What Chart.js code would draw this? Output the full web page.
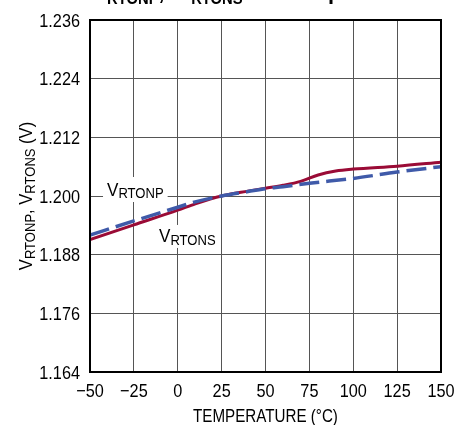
<!DOCTYPE html>
<html><head><meta charset="utf-8">
<script src="https://cdn.jsdelivr.net/npm/chart.js@4.4.0/dist/chart.umd.min.js"></script>
<style>html,body{margin:0;padding:0;background:#fff}#wrap{width:471px;height:425px}</style>
</head><body><div id="wrap"><canvas id="c" width="471" height="425"></canvas></div>
<script>
const tempsS = [-50, -25, 0, 10, 25, 40, 50, 60, 70, 80, 90, 100, 125, 150];
const vRTONS = [1.1911, 1.1941, 1.1971, 1.1984, 1.2000, 1.2010, 1.2016, 1.2022, 1.2030, 1.2043, 1.2051, 1.2055, 1.2061, 1.2069];
const tempsP = [-50, -25, 0, 10, 25, 40, 50, 60, 75, 100, 125, 150];
const vRTONP = [1.1920, 1.1949, 1.1977, 1.1988, 1.2000, 1.2009, 1.2015, 1.2019, 1.2026, 1.2036, 1.2049, 1.2060];
const xTickValues = [-50, -25, 0, 25, 50, 75, 100, 125, 150];
const xTickLabels = ['\u221250', '\u221225', '0', '25', '50', '75', '100', '125', '150'];
const yTickValues = [1.164, 1.176, 1.188, 1.200, 1.212, 1.224, 1.236];
const yTickLabels = ['1.164', '1.176', '1.188', '1.200', '1.212', '1.224', '1.236'];

const FAM = "'Liberation Sans', Arial, Helvetica, sans-serif";

function fontStr(size, weight) { return (weight ? weight + ' ' : '') + size + 'px ' + FAM; }
function richWidth(ctx, parts, size, subSize, weight) {
  let w = 0;
  parts.forEach(p => { ctx.font = fontStr(p.sub ? subSize : size, weight); w += ctx.measureText(p.t).width; });
  return w;
}
// draws condensed rich text (main + subscript parts); align: 'left' | 'center'
function drawRich(ctx, parts, x, y, size, subSize, subDrop, sx, weight, align) {
  const w = richWidth(ctx, parts, size, subSize, weight);
  ctx.save();
  ctx.translate(x, y);
  ctx.scale(sx, 1);
  ctx.textAlign = 'left';
  ctx.textBaseline = 'alphabetic';
  let cx = align === 'center' ? -w / 2 : 0;
  parts.forEach(p => {
    ctx.font = fontStr(p.sub ? subSize : size, weight);
    ctx.fillText(p.t, cx, p.sub ? subDrop : 0);
    cx += ctx.measureText(p.t).width;
  });
  ctx.restore();
  return w * sx;
}
function drawCond(ctx, text, x, y, size, sx, align, baseline) {
  ctx.save();
  ctx.translate(x, y);
  ctx.scale(sx, 1);
  ctx.font = fontStr(size);
  ctx.textAlign = align;
  ctx.textBaseline = baseline;
  ctx.fillText(text, 0, 0);
  ctx.restore();
}

const textPlugin = {
  id: 'texts',
  afterDatasetsDraw(chart) {
    const ctx = chart.ctx, xs = chart.scales.x, ys = chart.scales.y, a = chart.chartArea;
    ctx.save();
    // frame
    ctx.strokeStyle = '#000';
    ctx.lineWidth = 2;
    ctx.strokeRect(a.left, a.top, a.right - a.left, a.bottom - a.top);
    ctx.fillStyle = '#000';
    // tick labels
    yTickValues.forEach((v, i) => {
      drawCond(ctx, yTickLabels[i], a.left - 10, ys.getPixelForValue(v) + 6.5, 18.5, 0.88, 'right', 'alphabetic');
    });
    xTickValues.forEach((v, i) => {
      drawCond(ctx, xTickLabels[i], xs.getPixelForValue(v), 397, 18.5, 0.88, 'center', 'alphabetic');
    });
    // series labels with white background
    const lab1 = [{t: 'V'}, {t: 'RTONP', sub: true}];
    const lab2 = [{t: 'V'}, {t: 'RTONS', sub: true}];
    const x1 = xs.getPixelForValue(-40.3), y1 = ys.getPixelForValue(1.2000);
    const x2 = xs.getPixelForValue(-10.7), y2 = ys.getPixelForValue(1.1906);
    const w1 = richWidth(ctx, lab1, 19, 14.5) * 0.9;
    const w2 = richWidth(ctx, lab2, 19, 14.5) * 0.9;
    ctx.fillStyle = '#fff';
    ctx.fillRect(x1 - 4, y1 - 19, w1 + 8, 25);
    ctx.fillRect(x2 - 4, y2 - 17, w2 + 8, 23);
    ctx.fillStyle = '#000';
    drawRich(ctx, lab1, x1, y1, 19, 14.5, 2, 0.9);
    drawRich(ctx, lab2, x2, y2, 19, 14.5, 3, 0.9);
    // x axis title
    drawCond(ctx, 'TEMPERATURE (\u00B0C)', (a.left + a.right) / 2, 422, 18.5, 0.82, 'center', 'alphabetic');
    // y axis title rotated
    const yt = [{t: 'V'}, {t: 'RTONP', sub: true}, {t: ', V'}, {t: 'RTONS', sub: true}, {t: ' (V)'}];
    ctx.save();
    ctx.translate(32, (a.top + a.bottom) / 2);
    ctx.rotate(-Math.PI / 2);
    drawRich(ctx, yt, 0, 0, 19, 15, 3, 0.87, null, 'center');
    ctx.restore();
    // cut-off title at top
    const tt = [{t: 'V'}, {t: 'RTONP', sub: true}, {t: ',  V'}, {t: 'RTONS', sub: true}, {t: '  vs Temperature'}];
    ctx.font = fontStr(25, 'bold');
    const wV = ctx.measureText('V').width * 0.87;
    drawRich(ctx, tt, 107 - wV, -1, 25, 17, 5, 0.87, 'bold');
    ctx.restore();
  }
};

new Chart(document.getElementById('c'), {
  type: 'line',
  data: {
    datasets: [
      {
        label: 'VRTONP',
        data: tempsP.map((t, i) => ({x: t, y: vRTONP[i]})),
        borderColor: '#3f5aa9',
        borderWidth: 3.5,
        borderDash: [20, 7],
        pointRadius: 0,
        cubicInterpolationMode: 'monotone',
        fill: false
      },
      {
        label: 'VRTONS',
        data: tempsS.map((t, i) => ({x: t, y: vRTONS[i]})),
        borderColor: '#9a0b36',
        borderWidth: 3,
        pointRadius: 0,
        cubicInterpolationMode: 'monotone',
        fill: false
      }
    ]
  },
  options: {
    responsive: false,
    animation: false,
    events: [],
    layout: {padding: {left: 0, right: 30, top: 20, bottom: 0}},
    plugins: {legend: {display: false}, title: {display: false}, tooltip: {enabled: false}},
    scales: {
      x: {
        type: 'linear', min: -50, max: 150,
        afterBuildTicks: s => { s.ticks = xTickValues.map(v => ({value: v})); },
        afterFit: s => { s.height = 53; },
        ticks: {display: false},
        grid: {color: '#555', lineWidth: 1, drawTicks: false},
        border: {display: false}
      },
      y: {
        min: 1.164, max: 1.236,
        afterBuildTicks: s => { s.ticks = yTickValues.map(v => ({value: v})); },
        afterFit: s => { s.width = 90; },
        ticks: {display: false},
        grid: {color: '#555', lineWidth: 1, drawTicks: false},
        border: {display: false}
      }
    }
  },
  plugins: [textPlugin]
});
</script></body></html>
